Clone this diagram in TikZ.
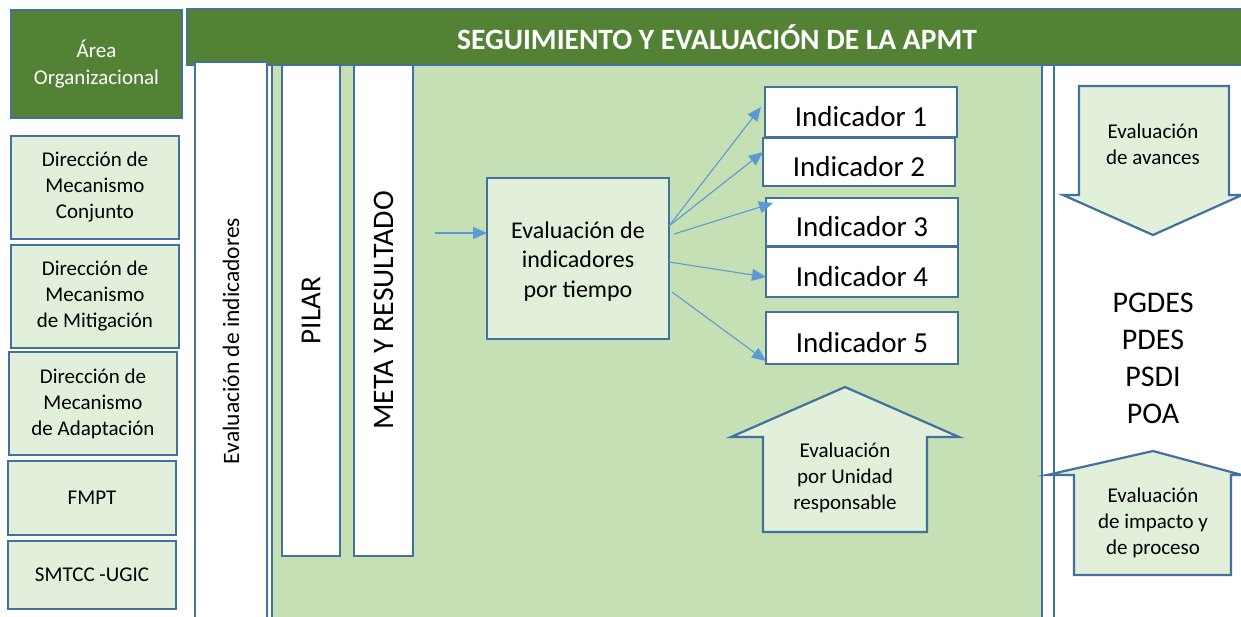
\documentclass[tikz,border=0pt]{standalone}
\usepackage{fontspec}
\setmainfont{Carlito}
\usetikzlibrary{arrows.meta,calc}
\definecolor{bord}{HTML}{41719C}
\definecolor{dg}{HTML}{548235}
\definecolor{lg}{HTML}{E2EFDA}
\definecolor{pg}{HTML}{C5E0B4}
\definecolor{arr}{HTML}{5B9BD5}
\begin{document}
\begin{tikzpicture}[x=1pt,y=-1pt,
  box/.style={draw=bord, line width=2.2pt, inner sep=0pt, outer sep=0pt, align=center},
  lbox/.style={box, fill=lg, minimum width=168pt, font=\fontsize{21}{26}\selectfont},
  ibox/.style={box, fill=white, minimum width=192pt, font=\fontsize{29}{32}\selectfont, text height=28pt, text depth=0pt},
  conn/.style={draw=arr, line width=1.1pt, -{Triangle[length=14pt,width=12pt]}},
  shp/.style={draw=bord, line width=2.2pt, fill=lg, line join=miter},
  stxt/.style={align=center, font=\fontsize{21}{26}\selectfont, inner sep=0pt},
]
\useasboundingbox (0,0) rectangle (1241,616);
% panels
\node[box, fill=pg, minimum width=770pt, minimum height=570pt] (panel) at (657,350) {};
\node[box, fill=white, minimum width=200pt, minimum height=570pt] (rpanel) at (1154,350) {};
\node[box, fill=white, rotate=90, minimum width=491pt, minimum height=58pt, font=\fontsize{29}{34}\selectfont] (pilar) at (311,310.5) {PILAR};
\node[box, fill=white, rotate=90, minimum width=491pt, minimum height=59pt, font=\fontsize{29.8}{34}\selectfont] (meta) at (383.5,310.5) {META Y RESULTADO};
\node[box, fill=dg, minimum width=1060pt, minimum height=56pt, text=white, font=\bfseries\fontsize{29.5}{34}\selectfont] (title) at (717,37) {SEGUIMIENTO Y EVALUACIÓN DE LA APMT};
\node[box, fill=white, minimum width=72pt, minimum height=570pt] (evalpanel) at (231,347) {};
\node[rotate=90, font=\fontsize{23.5}{28}\selectfont, inner sep=0pt] (evaltxt) at (231,341) {Evaluación de indicadores};
% left column
\node[box, fill=dg, text=white, minimum width=171pt, minimum height=108pt, font=\fontsize{21}{27}\selectfont] (area) at (96.5,64) {Área\\Organizacional};
\node[lbox, minimum height=103pt] (d1) at (95,187.5) {Dirección de\\Mecanismo\\Conjunto};
\node[lbox, minimum height=103pt] (d2) at (95,296.5) {Dirección de\\Mecanismo\\de Mitigación};
\node[lbox, minimum height=103pt] (d3) at (93,403.5) {Dirección de\\Mecanismo\\de Adaptación};
\node[lbox, minimum height=74pt] (fmpt) at (92,498) {FMPT};
\node[lbox, minimum height=68pt] (smtcc) at (92,575) {SMTCC -UGIC};
% central box
\node[box, fill=lg, minimum width=182pt, minimum height=161pt] (evt) at (578,258.5) {};
\node[align=center, inner sep=0pt, font=\fontsize{24}{29.5}\selectfont] (evttxt) at (578,261.5) {Evaluación de\\indicadores\\por tiempo};
% indicators
\node[ibox, minimum height=50pt] (ind1) at (861,112) {Indicador 1};
\node[ibox, minimum height=48pt] (ind2) at (859,162) {Indicador 2};
\node[ibox, minimum height=48pt] (ind3) at (862,222) {Indicador 3};
\node[ibox, minimum height=50pt] (ind4) at (862,272) {Indicador 4};
\node[ibox, minimum height=52pt] (ind5) at (862,338) {Indicador 5};
% connectors
\coordinate (in) at (435,233);
\draw[conn] (in) -- (evt.west |- in);
\draw[conn] (evt.east |- 0,226) -- (761,107);
\draw[conn] (evt.east |- 0,226) -- (763,152);
\draw[conn] (674,234) -- (773,203);
\draw[conn] (evt.east |- 0,262) -- (ind4.west |- 0,277);
\draw[conn] (672,292) -- (ind5.west |- 0,361);
% block arrows
\draw[shp] (845,387) -- (959,437) -- (927,437) -- (927,532) -- (763,532) -- (763,437) -- (731,437) -- cycle;
\node[stxt] (unidad) at (845,478) {Evaluación\\por Unidad\\responsable};
\draw[shp] (1153,451) -- (1242,475) -- (1231,475) -- (1231,575) -- (1074,575) -- (1074,475) -- (1047,475) -- cycle;
\node[stxt] (impacto) at (1153,523) {Evaluación\\de impacto y\\de proceso};
\draw[shp] (1079,86) -- (1229,86) -- (1229,195) -- (1242,195) -- (1153,235) -- (1063,195) -- (1079,195) -- cycle;
\node[stxt] (avances) at (1153,144) {Evaluación\\de avances};
\node[align=center, inner sep=0pt, font=\fontsize{30}{37}\selectfont] (plans) at (1153,358) {PGDES\\PDES\\PSDI\\POA};
\end{tikzpicture}
\end{document}
